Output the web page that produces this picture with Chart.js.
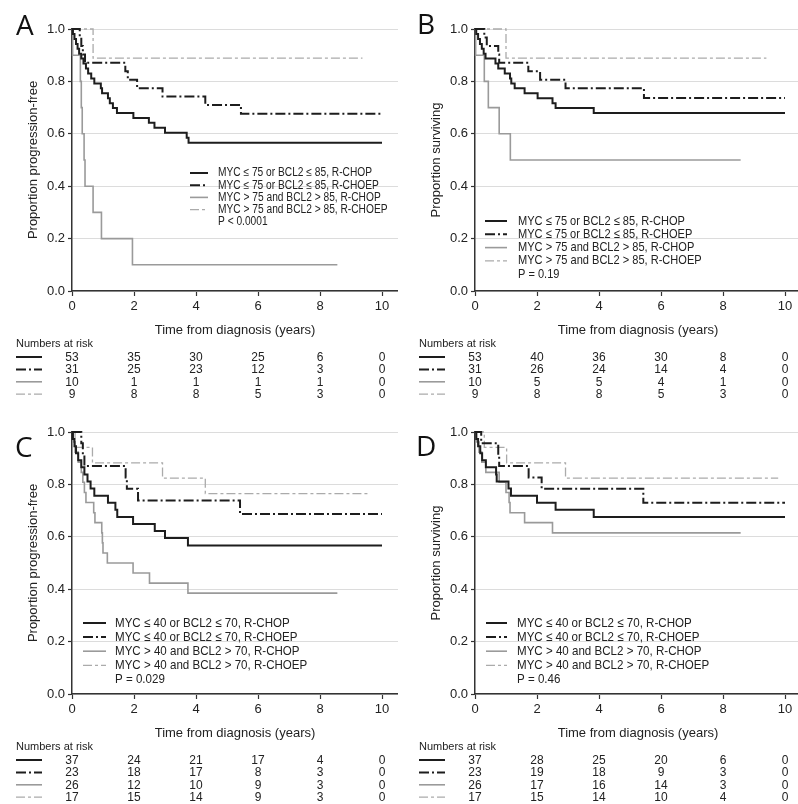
<!DOCTYPE html>
<html lang="en">

<head>
    <meta charset="UTF-8">
    <title>Survival by MYC / BCL2 expression</title>
    <style>
        html, body { margin: 0; padding: 0; background: #fff; }
        body { width: 798px; height: 804px; position: relative; overflow: hidden; }
        .panel { position: absolute; width: 398px; height: 401px; }
    </style>
    <script src="https://cdn.jsdelivr.net/npm/chart.js"></script>
</head>

<body>
    <div class="panel" style="left:0;top:0"><canvas id="chartA" width="398" height="401"></canvas></div>
    <div class="panel" style="left:403px;top:0"><canvas id="chartB" width="398" height="401"></canvas></div>
    <div class="panel" style="left:0;top:403px"><canvas id="chartC" width="398" height="401"></canvas></div>
    <div class="panel" style="left:403px;top:403px"><canvas id="chartD" width="398" height="401"></canvas></div>

    <script>
        // ---- data ----
        const timeTicks = [0, 2, 4, 6, 8, 10];
        const propTicks = [0, 0.2, 0.4, 0.6, 0.8, 1.0];

        // A: progression-free, MYC 75 / BCL2 85 cut-off
        const curveA1 = [[0,1],[0.03,0.981],[0.08,0.962],[0.13,0.943],[0.18,0.925],[0.23,0.906],[0.3,0.887],[0.37,0.868],[0.45,0.849],[0.52,0.830],[0.62,0.811],[0.72,0.792],[0.93,0.774],[0.97,0.755],[1.16,0.736],[1.22,0.717],[1.32,0.698],[1.45,0.679],[1.98,0.660],[2.48,0.642],[2.66,0.623],[3.0,0.604],[3.7,0.585],[3.76,0.566],[10,0.566]];
        const curveA2 = [[0,1],[0.25,0.968],[0.3,0.935],[0.35,0.903],[0.42,0.871],[1.72,0.839],[1.8,0.806],[2.1,0.774],[2.92,0.742],[4.3,0.710],[5.45,0.677],[10,0.677]];
        const curveA3 = [[0,1],[0.02,0.9],[0.27,0.8],[0.3,0.7],[0.33,0.6],[0.39,0.5],[0.42,0.4],[0.68,0.3],[0.95,0.2],[1.95,0.1],[8.56,0.1]];
        const curveA4 = [[0,1],[0.68,0.889],[9.37,0.889]];

        // B: overall survival, MYC 75 / BCL2 85
        const curveB1 = [[0,1],[0.04,0.981],[0.1,0.962],[0.16,0.943],[0.22,0.925],[0.28,0.906],[0.34,0.887],[0.66,0.868],[0.75,0.849],[0.96,0.830],[1.13,0.811],[1.17,0.792],[1.28,0.774],[1.6,0.755],[2.02,0.736],[2.5,0.717],[2.6,0.698],[3.83,0.679],[10,0.679]];
        const curveB2 = [[0,1],[0.3,0.968],[0.38,0.935],[0.75,0.903],[0.78,0.871],[1.72,0.839],[2.1,0.806],[2.92,0.774],[5.45,0.737],[10,0.737]];
        const curveB3 = [[0,1],[0.02,0.9],[0.3,0.8],[0.43,0.7],[0.78,0.6],[1.14,0.5],[8.57,0.5]];
        const curveB4 = [[0,1],[1.0,0.889],[9.4,0.889]];

        // C: progression-free, MYC 40 / BCL2 70
        const curveC1 = [[0,1],[0.03,0.973],[0.08,0.946],[0.13,0.919],[0.2,0.892],[0.3,0.865],[0.4,0.838],[0.5,0.811],[0.6,0.784],[0.72,0.757],[1.16,0.730],[1.4,0.703],[1.46,0.676],[1.97,0.649],[2.67,0.622],[3.0,0.595],[3.74,0.567],[10,0.567]];
        const curveC2 = [[0,1],[0.3,0.957],[0.35,0.913],[0.4,0.870],[1.73,0.826],[1.77,0.783],[2.13,0.739],[5.42,0.687],[10,0.687]];
        const curveC3 = [[0,1],[0.04,0.962],[0.1,0.923],[0.2,0.885],[0.3,0.846],[0.35,0.808],[0.4,0.769],[0.45,0.731],[0.7,0.692],[0.74,0.654],[0.96,0.615],[0.98,0.577],[1.0,0.538],[1.14,0.5],[1.97,0.462],[2.5,0.423],[3.74,0.385],[8.56,0.385]];
        const curveC4 = [[0,1],[0.1,0.941],[0.66,0.882],[2.92,0.824],[4.3,0.765],[9.62,0.765]];

        // D: overall survival, MYC 40 / BCL2 70
        const curveD1 = [[0,1],[0.04,0.973],[0.1,0.946],[0.17,0.919],[0.23,0.892],[0.35,0.865],[0.68,0.838],[0.7,0.811],[1.08,0.784],[1.16,0.757],[2.0,0.730],[2.6,0.703],[3.83,0.676],[10,0.676]];
        const curveD2 = [[0,1],[0.2,0.957],[0.75,0.913],[0.78,0.870],[1.73,0.826],[2.15,0.783],[5.43,0.730],[10,0.730]];
        const curveD3 = [[0,1],[0.05,0.962],[0.13,0.923],[0.22,0.885],[0.35,0.846],[0.78,0.808],[1.0,0.769],[1.1,0.731],[1.13,0.692],[1.6,0.654],[2.5,0.615],[8.57,0.615]];
        const curveD4 = [[0,1],[0.3,0.941],[1.02,0.882],[2.92,0.824],[9.78,0.824]];

        const riskA = [[53,35,30,25,6,0],[31,25,23,12,3,0],[10,1,1,1,1,0],[9,8,8,5,3,0]];
        const riskB = [[53,40,36,30,8,0],[31,26,24,14,4,0],[10,5,5,4,1,0],[9,8,8,5,3,0]];
        const riskC = [[37,24,21,17,4,0],[23,18,17,8,3,0],[26,12,10,9,3,0],[17,15,14,9,3,0]];
        const riskD = [[37,28,25,20,6,0],[23,19,18,9,3,0],[26,17,16,14,3,0],[17,15,14,10,4,0]];

        const labels7585 = ['MYC \u2264 75 or BCL2 \u2264 85, R-CHOP', 'MYC \u2264 75 or BCL2 \u2264 85, R-CHOEP', 'MYC > 75 and BCL2 > 85, R-CHOP', 'MYC > 75 and BCL2 > 85, R-CHOEP'];
        const labels4070 = ['MYC \u2264 40 or BCL2 \u2264 70, R-CHOP', 'MYC \u2264 40 or BCL2 \u2264 70, R-CHOEP', 'MYC > 40 and BCL2 > 70, R-CHOP', 'MYC > 40 and BCL2 > 70, R-CHOEP'];
        const pValues = ['P < 0.0001', 'P = 0.19', 'P = 0.029', 'P = 0.46'];
        const yTitles = ['Proportion progression-free', 'Proportion surviving', 'Proportion progression-free', 'Proportion surviving'];
        const xTitle = 'Time from diagnosis (years)';

        // ---- styles ----
        const FONT = '"Liberation Sans", Arial, sans-serif';
        const TXT = '#222';
        const lineStyles = [
            { color: '#1d1d1d', width: 2, dash: [] },
            { color: '#1d1d1d', width: 2, dash: [10, 3, 2, 3] },
            { color: '#9a9a9a', width: 1.6, dash: [] },
            { color: '#ababab', width: 1.3, dash: [9, 3, 3, 3] }
        ];
        const xMax = 10 * 326 / 310; // leaves the grid running past 10 like the original

        const panels = [
            { id: 'chartA', letter: 'A', lx: 16, ly: 35, curves: [curveA1, curveA2, curveA3, curveA4], labels: labels7585, p: pValues[0], yTitle: yTitles[0], risk: riskA,
              leg: { x0: 190, x1: 208, tx: 218, y: 173, step: 12.2, size: 12, sx: 0.85 } },
            { id: 'chartB', letter: 'B', lx: 14, ly: 34, curves: [curveB1, curveB2, curveB3, curveB4], labels: labels7585, p: pValues[1], yTitle: yTitles[1], risk: riskB,
              leg: { x0: 82, x1: 104, tx: 115, y: 221, step: 13.3, size: 13, sx: 0.85 } },
            { id: 'chartC', letter: 'C', lx: 15, ly: 54, curves: [curveC1, curveC2, curveC3, curveC4], labels: labels4070, p: pValues[2], yTitle: yTitles[2], risk: riskC,
              leg: { x0: 83, x1: 106, tx: 115, y: 220, step: 14.1, size: 13, sx: 0.89 } },
            { id: 'chartD', letter: 'D', lx: 13, ly: 53, curves: [curveD1, curveD2, curveD3, curveD4], labels: labels4070, p: pValues[3], yTitle: yTitles[3], risk: riskD,
              leg: { x0: 83, x1: 104, tx: 114, y: 220, step: 14.1, size: 13, sx: 0.89 } }
        ];

        function sampleLine(ctx, st, x0, x1, y) {
            ctx.save();
            ctx.strokeStyle = st.color;
            ctx.lineWidth = st.width;
            ctx.setLineDash(st.dash);
            ctx.beginPath();
            ctx.moveTo(x0, y);
            ctx.lineTo(x1, y);
            ctx.stroke();
            ctx.restore();
        }

        function squeezedText(ctx, text, x, y, sx) {
            ctx.save();
            ctx.translate(x, y);
            ctx.scale(sx, 1);
            ctx.fillText(text, 0, 0);
            ctx.restore();
        }

        // letter, legend and numbers-at-risk table
        const kmExtras = {
            id: 'kmExtras',
            afterDraw(chart, args, opts) {
                const p = opts.panel;
                const ctx = chart.ctx;
                const xs = chart.scales.x;
                ctx.save();
                ctx.fillStyle = '#111';
                ctx.textAlign = 'left';
                ctx.textBaseline = 'alphabetic';
                ctx.font = '28px "Open Sans", sans-serif';
                ctx.fillText(p.letter, p.lx, p.ly);

                // legend
                const lg = p.leg;
                ctx.fillStyle = TXT;
                ctx.textBaseline = 'middle';
                ctx.font = lg.size + 'px ' + FONT;
                p.labels.forEach((lab, i) => {
                    const y = lg.y + i * lg.step;
                    sampleLine(ctx, lineStyles[i], lg.x0, lg.x1, y);
                    squeezedText(ctx, lab, lg.tx, y, lg.sx);
                });
                squeezedText(ctx, p.p, lg.tx, lg.y + 4 * lg.step, lg.sx);

                // numbers at risk
                ctx.font = '11px ' + FONT;
                ctx.fillText('Numbers at risk', 16, 344);
                ctx.font = '12px ' + FONT;
                ctx.textAlign = 'center';
                p.risk.forEach((row, i) => {
                    const y = 357 + i * 12.4;
                    sampleLine(ctx, lineStyles[i], 16, 42, y);
                    row.forEach((n, j) => {
                        ctx.fillText(String(n), xs.getPixelForValue(timeTicks[j]), y + 0.5);
                    });
                });
                ctx.restore();
            }
        };

        panels.forEach(p => {
            const datasets = p.curves.map((c, i) => ({
                data: c.map(pt => ({ x: pt[0], y: pt[1] })),
                stepped: 'before',
                borderColor: lineStyles[i].color,
                borderWidth: lineStyles[i].width,
                borderDash: lineStyles[i].dash,
                borderCapStyle: 'butt',
                pointRadius: 0,
                fill: false,
                clip: false,
                order: i
            }));

            new Chart(document.getElementById(p.id), {
                type: 'line',
                data: { datasets: datasets },
                plugins: [kmExtras],
                options: {
                    responsive: false,
                    animation: false,
                    layout: { padding: { top: 29, left: 0, right: 0, bottom: 0 } },
                    plugins: {
                        legend: { display: false },
                        tooltip: { enabled: false },
                        kmExtras: { panel: p }
                    },
                    scales: {
                        x: {
                            type: 'linear',
                            min: 0,
                            max: xMax,
                            afterBuildTicks: s => { s.ticks = timeTicks.map(v => ({ value: v })); },
                            afterFit: s => { s.height = 110; },
                            grid: { drawOnChartArea: false, drawTicks: true, tickLength: 5, tickColor: '#333', tickWidth: 1.2 },
                            border: { display: true, color: '#333', width: 1.5 },
                            ticks: { color: TXT, font: { family: FONT, size: 13 }, padding: 3, maxRotation: 0, callback: v => String(v) },
                            title: { display: true, text: xTitle, color: TXT, font: { family: FONT, size: 13 }, padding: { top: 0, bottom: 63 } }
                        },
                        y: {
                            type: 'linear',
                            min: 0,
                            max: 1,
                            afterBuildTicks: s => { s.ticks = propTicks.map(v => ({ value: v })); },
                            afterFit: s => { s.width = 72; },
                            grid: { color: '#dcdcdc', lineWidth: 1, drawTicks: true, tickLength: 4, tickColor: '#333', tickWidth: 1.2 },
                            border: { display: true, color: '#333', width: 1.5 },
                            ticks: { color: TXT, font: { family: FONT, size: 13 }, padding: 3, callback: v => Number(v).toFixed(1) },
                            title: { display: true, text: p.yTitle, color: TXT, font: { family: FONT, size: 13 }, padding: { top: 26, bottom: 0 } }
                        }
                    }
                }
            });
        });
    </script>
</body>

</html>
